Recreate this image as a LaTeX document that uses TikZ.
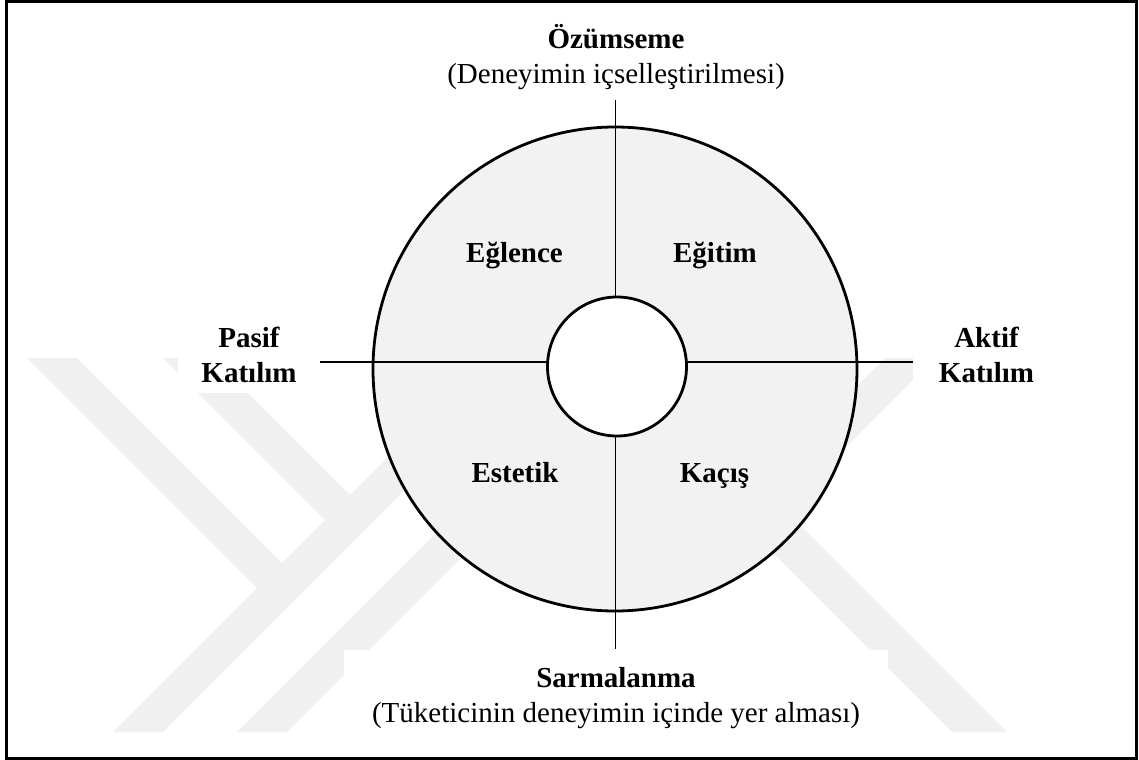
\documentclass[tikz,border=0pt]{standalone}
\usepackage{fontspec}
\setmainfont{Liberation Serif}
\definecolor{ringfill}{RGB}{242,242,242}
\definecolor{wmgray}{RGB}{240,240,240}
\newcommand{\uu}{0.4828pt}
\newcommand{\lblfont}{\fontsize{14}{16.6}\selectfont}
\tikzset{
  wmband/.style={fill=wmgray},
  boxlabel/.style={fill=white, inner sep=0pt, align=center},
  quadlabel/.style={inner sep=0pt, anchor=base, font=\lblfont\bfseries},
  axisline/.style={line width=0.65pt},
  ringline/.style={line width=1.35pt},
  frameline/.style={line width=1.45pt},
}
\begin{document}
\begin{tikzpicture}[x=\uu,y=-\uu]
\useasboundingbox (0,0) rectangle (1139,760);
% faint background watermark
\fill[wmband] (27,358) -- (77,358) -- (282,563) -- (257,588) -- cycle;
\fill[wmband] (163,358) -- (213,358) -- (350,495) -- (325,520) -- cycle;
\fill[wmband] (113,732) -- (163,732) -- (537,358) -- (487,358) -- cycle;
\fill[wmband] (237,732) -- (287,732) -- (661,358) -- (611,358) -- cycle;
\fill[wmband] (885,358) -- (935,358) -- (784,509) -- (1007,732) -- (952,732) -- (731.5,511.5) -- cycle;
% axis labels on white boxes
\node[boxlabel, font=\lblfont, minimum width=300*\uu, minimum height=76*\uu] (T) at (616,57) {\textbf{Özümseme}\\(Deneyimin içselleştirilmesi)};
\node[boxlabel, font=\lblfont, minimum width=544*\uu, minimum height=96*\uu] (B) at (616,698) {\textbf{Sarmalanma}\\(Tüketicinin deneyimin içinde yer alması)};
\node[boxlabel, font=\lblfont\bfseries, minimum width=142*\uu, minimum height=76*\uu] (L) at (249,355) {Pasif\\Katılım};
\node[boxlabel, font=\lblfont\bfseries, minimum width=147*\uu, minimum height=76*\uu] (R) at (986.5,355) {Aktif\\Katılım};
% ring
\node[circle, draw, ringline, fill=ringfill, minimum size=484*\uu, inner sep=0pt] (ring) at (615,369) {};
% axes
\coordinate (axN) at (615.7,100);
\coordinate (axS) at (615.7,649);
\coordinate (axW) at (320,362);
\coordinate (axE) at (913,362);
\draw[axisline] (axN) -- (axS);
\draw[axisline] (axW) -- (axE);
% hub
\node[circle, draw, ringline, fill=white, minimum size=139*\uu, inner sep=0pt] (hub) at (617,366.5) {};
% quadrant labels
\node[quadlabel] (q1) at (514.5,262) {Eğlence};
\node[quadlabel] (q2) at (715,262.5) {Eğitim};
\node[quadlabel] (q3) at (515,482.5) {Estetik};
\node[quadlabel] (q4) at (714.5,482) {Kaçış};
% frame
\draw[frameline] (6.5,1.5) rectangle (1136.5,758.5);
\end{tikzpicture}
\end{document}
